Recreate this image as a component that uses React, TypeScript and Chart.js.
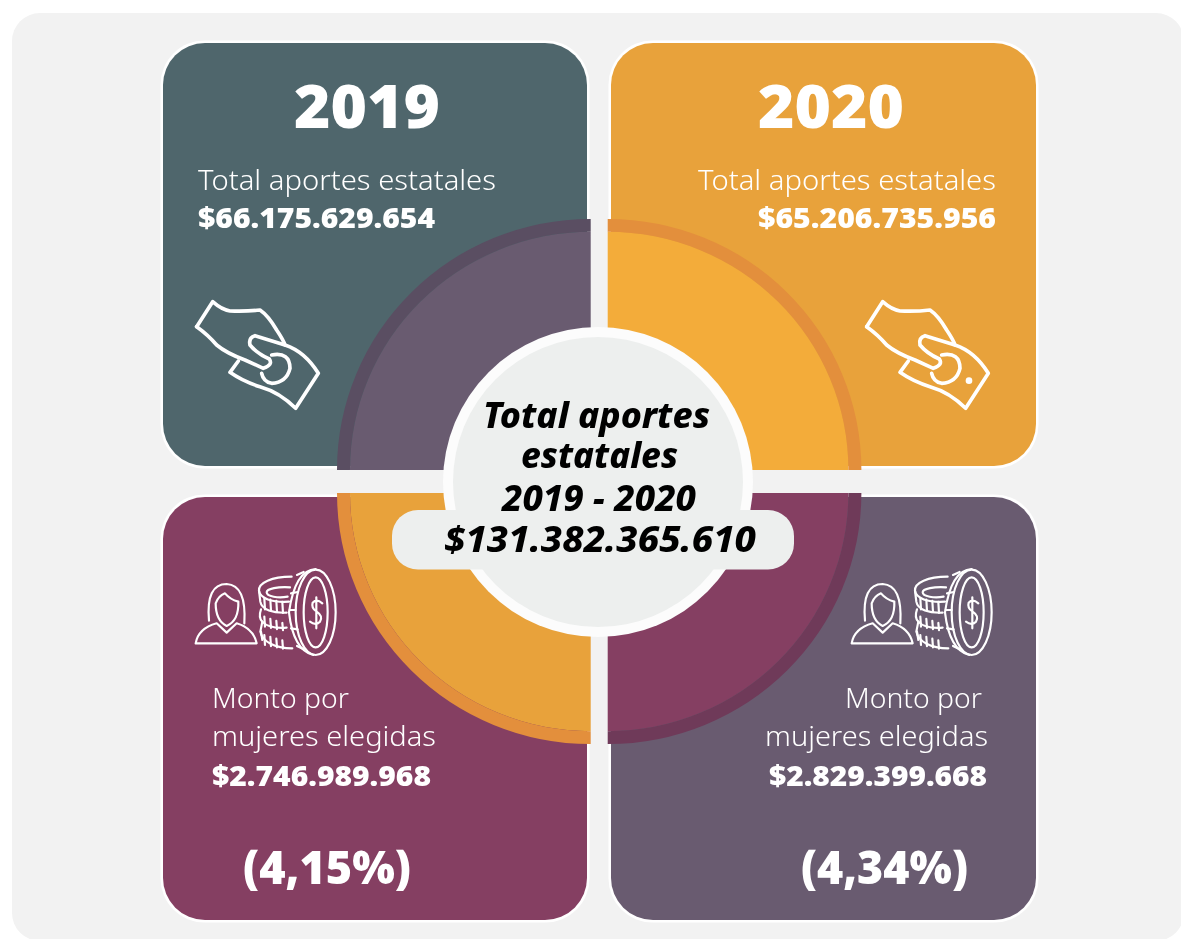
import React, { useEffect, useRef } from "react";
import { Chart, ArcElement, DoughnutController } from "chart.js";

Chart.register(ArcElement, DoughnutController);

// Data
const quadrantLabels = ["2020 total", "2020 mujeres", "2019 mujeres", "2019 total"];
const quadrantShares = [25, 25, 25, 25];
const rimColors = ["#e38f3c", "#6f3a59", "#e38f3c", "#5a4e62"];
const fillColors = ["#f3ac3a", "#853f62", "#e8a23b", "#695b70"];

const years = ["2019", "2020"];
const totalLabel = "Total aportes estatales";
const totals = ["$66.175.629.654", "$65.206.735.956"];
const womenLabels = ["Monto por", "mujeres elegidas"];
const womenAmounts = ["$2.746.989.968", "$2.829.399.668"];
const womenShares = ["(4,15%)", "(4,34%)"];
const centerLines = ["Total aportes", "estatales", "2019 - 2020", "$131.382.365.610"];

const panels = [
  { x: 163, y: 43, w: 424, h: 423, color: "#4f666c" },
  { x: 611, y: 43, w: 425, h: 423, color: "#e8a23b" },
  { x: 163, y: 497, w: 424, h: 423, color: "#853f62" },
  { x: 611, y: 497, w: 425, h: 423, color: "#695b70" },
];

const FONT = "'Noto Sans', sans-serif";

function roundRect(ctx: CanvasRenderingContext2D, x: number, y: number, w: number, h: number, r: number, color: string) {
  ctx.beginPath();
  ctx.roundRect(x, y, w, h, r);
  ctx.fillStyle = color;
  ctx.fill();
}

const DX = 8.5;
const DY = 11.5;
const SQUASH = 251 / 253.7;

const infographicPlugin = {
  id: "infographic",
  afterDatasetsUpdate(chart: any) {
    chart.data.datasets.forEach((_: any, i: number) => {
      chart.getDatasetMeta(i).data.forEach((el: any) => {
        el.draw = function (ctx: CanvasRenderingContext2D) {
          const mid = (this.startAngle + this.endAngle) / 2;
          ctx.save();
          ctx.translate(this.x + Math.sign(Math.cos(mid)) * DX, this.y + Math.sign(Math.sin(mid)) * DY);
          ctx.scale(1, SQUASH);
          ctx.translate(-this.x, -this.y);
          ArcElement.prototype.draw.call(this, ctx);
          ctx.restore();
        };
      });
    });
  },
  beforeDatasetsDraw(chart: any) {
    const ctx: CanvasRenderingContext2D = chart.ctx;
    ctx.save();
    roundRect(ctx, 12, 13, 1172, 928, 28, "#f2f2f2");
    panels.forEach((p) => {
      roundRect(ctx, p.x - 2.5, p.y - 2.5, p.w + 5, p.h + 5, 44, "#ffffff");
      roundRect(ctx, p.x, p.y, p.w, p.h, 42, p.color);
    });
    ctx.restore();
  },
  afterDatasetsDraw(chart: any) {
    const ctx: CanvasRenderingContext2D = chart.ctx;
    ctx.save();
    ctx.beginPath();
    ctx.arc(598, 482, 155, 0, Math.PI * 2);
    ctx.fillStyle = "#fcfcfc";
    ctx.fill();
    ctx.beginPath();
    ctx.arc(598, 482, 145, 0, Math.PI * 2);
    ctx.fillStyle = "#edefee";
    ctx.fill();
    roundRect(ctx, 392, 510, 402, 59.5, 26, "#edefee");
    ctx.restore();
  },
};

type Line = { t: string; x: number; w: number; y: number; size: number; weight: number; color?: string; italic?: boolean };

const lines: Line[] = [
  { t: years[0], x: 294, w: 146, y: 128, size: 60, weight: 900 },
  { t: years[1], x: 758, w: 146, y: 128, size: 60, weight: 900 },
  { t: totalLabel, x: 198, w: 298, y: 190, size: 28, weight: 300 },
  { t: totals[0], x: 198, w: 237, y: 228, size: 28, weight: 900 },
  { t: totalLabel, x: 698, w: 298, y: 190, size: 28, weight: 300 },
  { t: totals[1], x: 758, w: 238, y: 228, size: 28, weight: 900 },
  { t: womenLabels[0], x: 212, w: 137, y: 708, size: 28, weight: 300 },
  { t: womenLabels[1], x: 212, w: 224, y: 746, size: 28, weight: 300 },
  { t: womenAmounts[0], x: 212, w: 219, y: 786, size: 28, weight: 900 },
  { t: womenShares[0], x: 243, w: 168, y: 884, size: 46, weight: 900 },
  { t: womenLabels[0], x: 845, w: 137, y: 708, size: 28, weight: 300 },
  { t: womenLabels[1], x: 765, w: 223, y: 746, size: 28, weight: 300 },
  { t: womenAmounts[1], x: 769, w: 218, y: 786, size: 28, weight: 900 },
  { t: womenShares[1], x: 801, w: 167, y: 884, size: 46, weight: 900 },
  { t: centerLines[0], x: 483, w: 227, y: 428, size: 36, weight: 800, color: "#000", italic: true },
  { t: centerLines[1], x: 521, w: 157, y: 468, size: 36, weight: 800, color: "#000", italic: true },
  { t: centerLines[2], x: 502, w: 194, y: 511, size: 36, weight: 800, color: "#000", italic: true },
  { t: centerLines[3], x: 444, w: 312, y: 552, size: 36, weight: 800, color: "#000", italic: true },
];

function HandIcon({ x, y, dot }: { x: number; y: number; dot?: boolean }) {
  return (
    <g transform={`translate(${x} ${y}) scale(0.3333)`} fill="none" stroke="#fff" strokeWidth={11} strokeLinejoin="round" strokeLinecap="round">
      <path d="M50,125 L98,50 Q125,74 150,78 Q200,80 240,75 Q265,92 290,135 Q310,165 315,180 Q375,200 415,265 L347,370 Q300,322 240,305 Q190,290 150,262 L175,228" />
      <path d="M315,180 L225,152 Q205,158 210,180 Q230,205 268,222 Q280,240 250,250 L195,225 Q140,205 110,180 Q85,150 50,125" />
      <path d="M275,210 Q330,200 330,250 Q320,292 275,295 Q250,290 245,265" />
      {dot && <circle cx={357} cy={287} r={10} fill="#fff" stroke="none" />}
    </g>
  );
}

function WomanCoinsIcon({ x, y }: { x: number; y: number }) {
  const ticksTop = [238, 256, 274, 292];
  return (
    <g transform={`translate(${x} ${y}) scale(0.3333)`} fill="none" stroke="#fff" strokeWidth={6.5} strokeLinejoin="round" strokeLinecap="round">
      <path d="M32,250 L215,250 Q205,205 155,190 L125,218 L95,190 Q40,205 32,250 Z" />
      <path d="M72,182 Q62,72 125,72 Q185,75 178,190" />
      <path d="M92,130 Q100,108 120,100 Q135,118 160,125 Q162,182 125,198 Q92,182 92,130 Z" />
      <ellipse cx={392} cy={157} rx={60} ry={128} />
      <ellipse cx={392} cy={157} rx={36} ry={105} />
      <path d="M392,27 Q330,30 312,157 Q325,270 385,285" />
      <path d="M412,130 Q395,115 383,128 Q378,145 395,155 Q415,168 405,185 Q392,198 375,185 M394,112 L394,205" />
      <path d="M320,50 C260,50 220,68 222,92 C225,115 260,128 312,125" />
      <path d="M315,82 C280,80 245,85 245,97 C245,110 280,115 308,110" />
      <path d="M222,92 L226,125 C230,150 265,160 305,158" />
      <path d="M228,148 C222,165 225,178 232,185 C245,200 275,205 305,203" />
      <path d="M232,185 L226,215 C232,245 270,265 322,265" />
      <path d="M228,215 L232,240" />
      {ticksTop.map((t) => (
        <path key={t} d={`M${t},${115 + (t - 238) * 0.2} L${t + 2},${148 + (t - 238) * 0.2}`} />
      ))}
      {ticksTop.map((t) => (
        <path key={`b${t}`} d={`M${t},${170 + (t - 238) * 0.35} L${t + 2},${200 + (t - 238) * 0.2}`} />
      ))}
      {ticksTop.map((t) => (
        <path key={`c${t}`} d={`M${t},${225 + (t - 238) * 0.3} L${t + 2},${255 + (t - 238) * 0.2}`} />
      ))}
      <path d="M336,45 L356,36 M318,100 L338,96 M314,150 L332,150 M318,205 L338,208 M336,258 L356,268" />
    </g>
  );
}

export default function App() {
  const ref = useRef<HTMLCanvasElement>(null);
  useEffect(() => {
    document.documentElement.style.background = "#ffffff";
    const chart = new Chart(ref.current!, {
      type: "doughnut",
      data: {
        labels: quadrantLabels,
        datasets: [
          { data: quadrantShares, backgroundColor: rimColors, borderWidth: 0, weight: 13 } as any,
          { data: quadrantShares, backgroundColor: fillColors, borderWidth: 0, weight: 114 } as any,
        ],
      },
      options: {
        responsive: false,
        animation: false,
        events: [],
        radius: 253.7,
        cutout: "50%",
        layout: { padding: { left: 17.4, top: 24, right: 0, bottom: 0 } },
        plugins: { legend: { display: false }, tooltip: { enabled: false } },
      } as any,
      plugins: [infographicPlugin],
    });
    return () => chart.destroy();
  }, []);

  return (
    <div style={{ position: "absolute", left: 0, top: 0, width: 1181, height: 939, overflow: "hidden", background: "#fff" }}>
      <canvas ref={ref} width={1181} height={939} style={{ position: "absolute", left: 0, top: 0, display: "block" }} />
      <svg width={1181} height={939} style={{ position: "absolute", left: 0, top: 0 }}>
        <HandIcon x={180} y={285} />
        <HandIcon x={850} y={285} dot />
        <WomanCoinsIcon x={185} y={560} />
        <WomanCoinsIcon x={841} y={560} />
        {lines.map((l, i) => (
          <text
            key={i}
            x={l.x}
            y={l.y}
            textLength={l.w}
            lengthAdjust="spacingAndGlyphs"
            fill={l.color ?? "#fff"}
            fontFamily={FONT}
            fontSize={l.size}
            fontWeight={l.weight}
            fontStyle={l.italic ? "italic" : "normal"}
          >
            {l.t}
          </text>
        ))}
      </svg>
    </div>
  );
}
